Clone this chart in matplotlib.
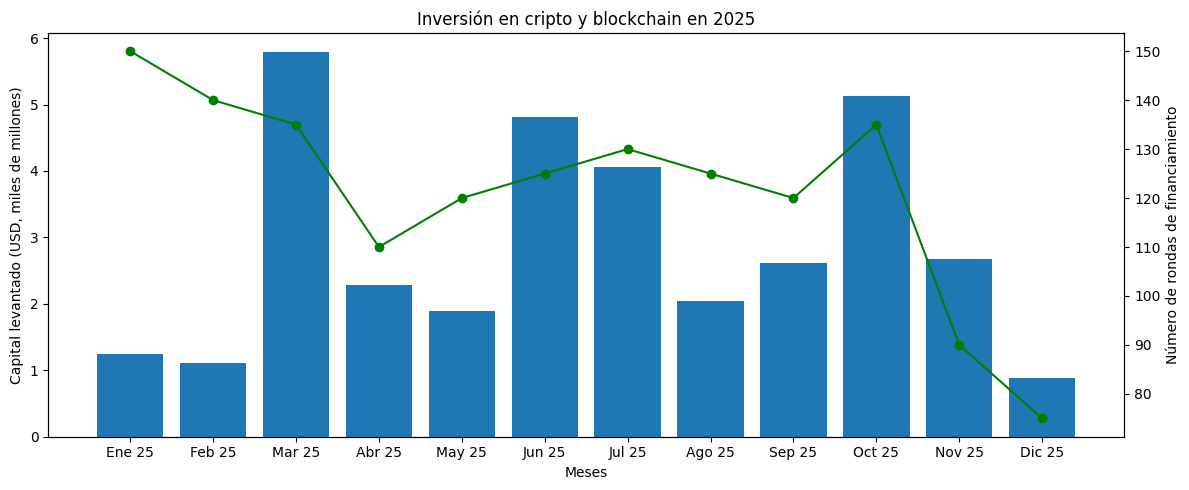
import matplotlib
matplotlib.use("Agg")
import matplotlib.pyplot as plt

# datos
meses = ["Ene 25", "Feb 25", "Mar 25", "Abr 25", "May 25", "Jun 25",
         "Jul 25", "Ago 25", "Sep 25", "Oct 25", "Nov 25", "Dic 25"]
capital = [1.24, 1.11, 5.79, 2.28, 1.89, 4.81, 4.06, 2.04, 2.62, 5.13, 2.68, 0.88]
rondas = [150, 140, 135, 110, 120, 125, 130, 125, 120, 135, 90, 75]

fig, ax1 = plt.subplots(figsize=(12, 5), dpi=100)
ax1.bar(meses, capital, color="#1f77b4")
ax1.set_xlabel("Meses")
ax1.set_ylabel("Capital levantado (USD, miles de millones)")

# segundo eje para numero de rondas
ax2 = ax1.twinx()
ax2.plot(meses, rondas, color="green", marker="o")
ax2.set_ylabel("Número de rondas de financiamiento")

plt.title("Inversión en cripto y blockchain en 2025")
fig.tight_layout()
fig.savefig("out.png", bbox_inches="tight")
